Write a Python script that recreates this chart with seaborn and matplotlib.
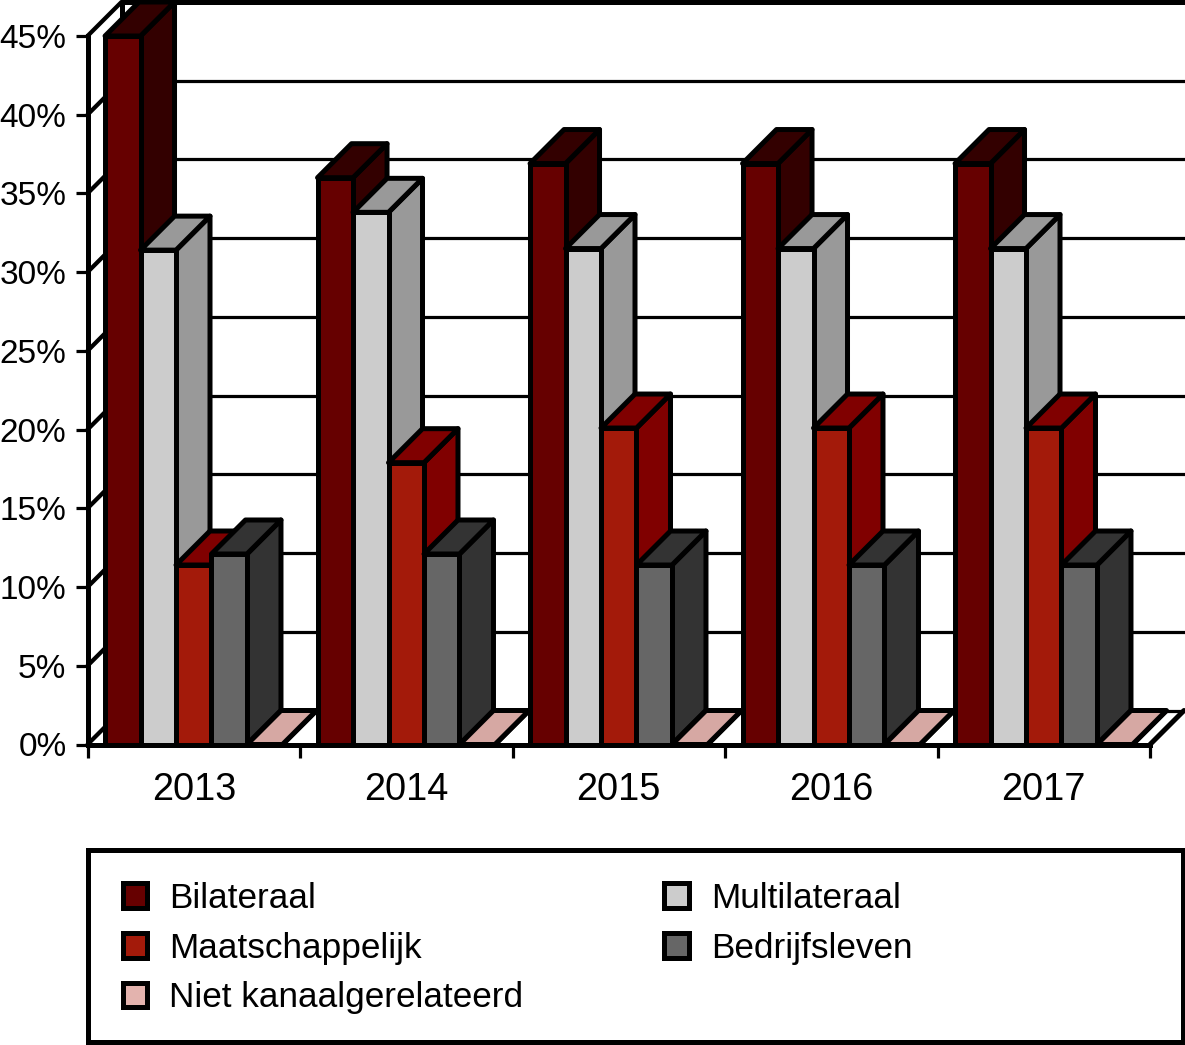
import pandas as pd
import matplotlib
matplotlib.use("Agg")
import matplotlib.pyplot as plt
import seaborn as sns
from matplotlib.patches import Polygon, Rectangle

# data
years = ["2013", "2014", "2015", "2016", "2017"]
channels = ["Bilateraal", "Multilateraal", "Maatschappelijk", "Bedrijfsleven", "Niet kanaalgerelateerd"]
bilateraal = [45.0, 36.0, 36.9, 36.9, 36.9]
multilateraal = [31.4, 33.8, 31.5, 31.5, 31.5]
maatschappelijk = [11.4, 17.9, 20.1, 20.1, 20.1]
bedrijfsleven = [12.1, 12.1, 11.4, 11.4, 11.4]
niet_kanaal = [0, 0, 0, 0, 0]

front_colors = ["#660000", "#CCCCCC", "#A31A0A", "#666666", "#E3B3AE"]
side_colors = ["#330000", "#999999", "#800000", "#333333", "#D6A8A3"]

W, H = 1185, 1045
PX = 0.72  # one pixel in points at dpi 100
LW_BAR = 5 * PX
LW_GRID = 3.2 * PX

df = pd.DataFrame({
    "jaar": years * 5,
    "kanaal": [c for c in channels for _ in years],
    "aandeel": bilateraal + multilateraal + maatschappelijk + bedrijfsleven + niet_kanaal,
})

sns.set_theme(style="white", rc={"axes.edgecolor": "black", "text.color": "black",
                                 "xtick.color": "black", "ytick.color": "black"})
plt.rcParams["font.family"] = ["Liberation Sans", "DejaVu Sans"]

fig = plt.figure(figsize=(W / 100, H / 100), dpi=100)
ax = fig.add_axes([87.5 / W, (H - 744.5) / H, (1150 - 87.5) / W, 708.5 / H])

sns.barplot(data=df, x="jaar", y="aandeel", hue="kanaal", order=years, hue_order=channels,
            palette=dict(zip(channels, front_colors)), saturation=1, width=0.835, gap=0,
            edgecolor="black", linewidth=LW_BAR, errorbar=None, ax=ax)
ax.set_xlim(-0.5, 4.5)
ax.set_ylim(0, 45)
ax.set_xlabel("")
ax.set_ylabel("")
sns.despine(ax=ax, top=True, right=True)
for side in ["left", "bottom"]:
    ax.spines[side].set_linewidth(LW_BAR)
    ax.spines[side].set_zorder(30)

# depth of the fake 3d box, 34 px in both directions
dx = 34 / (1062.5 / 5)
dy = 34 / (708.5 / 45)
right_end = 4.5 + 35 / (1062.5 / 5)

# back wall and floor
ticks = list(range(0, 50, 5))
for t in ticks:
    lw = LW_BAR if t == 45 else LW_GRID
    ax.plot([-0.5 + dx, right_end], [t + dy, t + dy], color="black", lw=lw, clip_on=False, zorder=1)
    ax.plot([-0.5, -0.5 + dx], [t, t + dy], color="black", lw=LW_BAR * 0.85, clip_on=False, zorder=1)
ax.plot([-0.5 + dx, -0.5 + dx], [dy, 45 + dy], color="black", lw=LW_BAR, clip_on=False, zorder=1)
ax.plot([4.5, 4.5 + dx], [0, dy], color="black", lw=LW_BAR, clip_on=False, zorder=1)

# side and top of every bar, later bars cover the earlier ones
bars = []
for i, cont in enumerate(ax.containers):
    for p in cont.patches:
        bars.append((p.get_x(), i, p))
bars.sort(key=lambda b: b[0])
for rank, (x, i, p) in enumerate(bars):
    w = p.get_width()
    h = p.get_height()
    z = 3 + rank * 0.1
    p.set_zorder(z + 0.05)
    p.set_clip_on(False)
    p.set_joinstyle("round")
    side = [(x + w, 0), (x + w + dx, dy), (x + w + dx, h + dy), (x + w, h)]
    top = [(x, h), (x + dx, h + dy), (x + w + dx, h + dy), (x + w, h)]
    for pts in (side, top):
        ax.add_patch(Polygon(pts, closed=True, facecolor=side_colors[i], edgecolor="black",
                             lw=LW_BAR, joinstyle="round", clip_on=False, zorder=z))

# ticks
ax.set_yticks(ticks)
ax.set_yticklabels([f"{t}%" for t in ticks])
ax.set_xticks([k - 0.5 for k in range(6)], minor=True)
ax.tick_params(axis="y", which="major", left=True, length=12 * PX, width=LW_GRID, pad=9 * PX, labelsize=24)
ax.tick_params(axis="x", which="minor", bottom=True, length=13 * PX, width=LW_GRID)
ax.tick_params(axis="x", which="major", length=0, pad=27 * PX, labelsize=27.3)

# legend
handles, labels = ax.get_legend_handles_labels()
ax.get_legend().remove()
order = [0, 2, 4, 1, 3]
fig.add_artist(Rectangle((87.5 / W, (H - 1042) / H), (1183 - 87.5) / W, (1042 - 850) / H,
                         transform=fig.transFigure, facecolor="white", edgecolor="black", lw=LW_BAR))
fs = 25.3
leg = fig.legend([handles[k] for k in order], [labels[k] for k in order], ncol=2, frameon=False,
                 loc="upper left", bbox_to_anchor=(122.5 / W, (H - 882) / H), bbox_transform=fig.transFigure,
                 fontsize=fs, borderpad=0, borderaxespad=0, handlelength=0.70, handleheight=0.70,
                 handletextpad=0.63, labelspacing=0.473, columnspacing=4.0)
for h in leg.legend_handles:
    h.set_linewidth(LW_BAR)
    h.set_edgecolor("black")

fig.savefig("out.png", dpi=100)
